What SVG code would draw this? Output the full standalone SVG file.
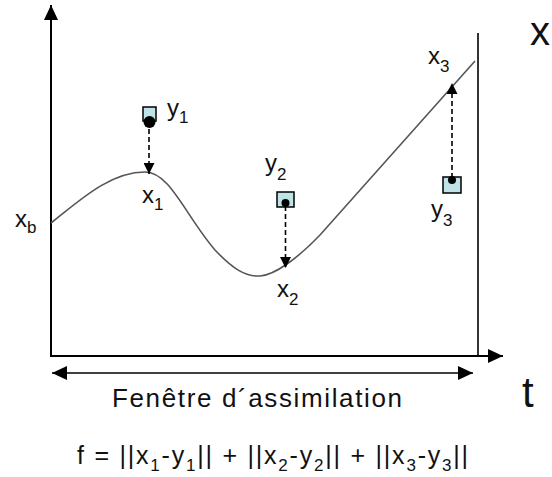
<svg xmlns="http://www.w3.org/2000/svg" width="552" height="477" viewBox="0 0 552 477">
<style>
text{font-family:"Liberation Sans",Arial,sans-serif;fill:#111}
.lbl{font-size:24px}
.sub{font-size:17px}
.axis{stroke:#000;stroke-width:2;fill:none}
.obs{fill:#bfe3e6;stroke:#000;stroke-width:1.5}
.dash{stroke:#000;stroke-width:1.6;stroke-dasharray:5,3;fill:none}
</style>
<defs>
<marker id="ah" viewBox="0 0 11 11" refX="11" refY="5.5" markerWidth="11" markerHeight="11" markerUnits="userSpaceOnUse" orient="auto">
<path d="M0,0 L11,5.5 L0,11 Z" fill="#000"/>
</marker>
<marker id="big" viewBox="0 0 15 14" refX="15" refY="7" markerWidth="15" markerHeight="14" markerUnits="userSpaceOnUse" orient="auto-start-reverse">
<path d="M0,0 L15,7 L0,14 Z" fill="#000"/>
</marker>
</defs>
<rect width="552" height="477" fill="#fff"/>
<g id="axes">
<line class="axis" x1="51" y1="357" x2="51" y2="5" marker-end="url(#big)"/>
<line class="axis" x1="50" y1="356" x2="503" y2="356" marker-end="url(#big)"/>
<line x1="478" y1="33" x2="478" y2="356" stroke="#000" stroke-width="1.6"/>
<text x="530" y="45" font-size="40">x</text>
<text x="522" y="407" font-size="42">t</text>
</g>
<g id="window">
<line x1="52" y1="373" x2="473" y2="373" stroke="#000" stroke-width="1.6" marker-start="url(#big)" marker-end="url(#big)"/>
<text x="112" y="407" font-size="26" textLength="290" lengthAdjust="spacing">Fenêtre d´assimilation</text>
</g>
<g id="trajectory">
<path d="M51,223 C80,200 110,172 145,172 C170,172 185,215 215,250 C232,268 245,277 260,276 C275,275 298,258 320,235 L475,61" fill="none" stroke="#555" stroke-width="1.6"/>
<text class="lbl" x="15" y="227">x<tspan class="sub" dy="6">b</tspan></text>
</g>
<g id="obs1">
<rect class="obs" x="143" y="107" width="13" height="14"/>
<circle cx="149.5" cy="122" r="6" fill="#000"/>
<text class="lbl" x="167" y="116">y<tspan class="sub" dy="7">1</tspan></text>
<text class="lbl" x="142" y="203">x<tspan class="sub" dy="7">1</tspan></text>
</g>
<g id="obs2">
<rect class="obs" x="277" y="192" width="17" height="15"/>
<circle cx="285.5" cy="203" r="4" fill="#000"/>
<text class="lbl" x="265" y="171">y<tspan class="sub" dy="9">2</tspan></text>
<text class="lbl" x="277" y="297">x<tspan class="sub" dy="8">2</tspan></text>
</g>
<g id="obs3">
<rect class="obs" x="443" y="177" width="18" height="16"/>
<circle cx="452" cy="180" r="4" fill="#000"/>
<text class="lbl" x="431" y="217">y<tspan class="sub" dy="9">3</tspan></text>
<text class="lbl" x="428" y="64">x<tspan class="sub" dy="8">3</tspan></text>
</g>
<g id="connectors">
<line class="dash" x1="149" y1="129" x2="149" y2="174" marker-end="url(#ah)"/>
<line class="dash" x1="285.5" y1="206" x2="285.5" y2="268" marker-end="url(#ah)"/>
<line class="dash" x1="452" y1="178" x2="452" y2="83" marker-end="url(#ah)"/>
</g>
<g id="formula">
<text x="77" y="464" font-size="25" textLength="391" lengthAdjust="spacing">f = ||x<tspan class="sub" dy="7">1</tspan><tspan dy="-7">-y</tspan><tspan class="sub" dy="7">1</tspan><tspan dy="-7">|| + ||x</tspan><tspan class="sub" dy="7">2</tspan><tspan dy="-7">-y</tspan><tspan class="sub" dy="7">2</tspan><tspan dy="-7">|| + ||x</tspan><tspan class="sub" dy="7">3</tspan><tspan dy="-7">-y</tspan><tspan class="sub" dy="7">3</tspan><tspan dy="-7">||</tspan></text>
</g>
</svg>
